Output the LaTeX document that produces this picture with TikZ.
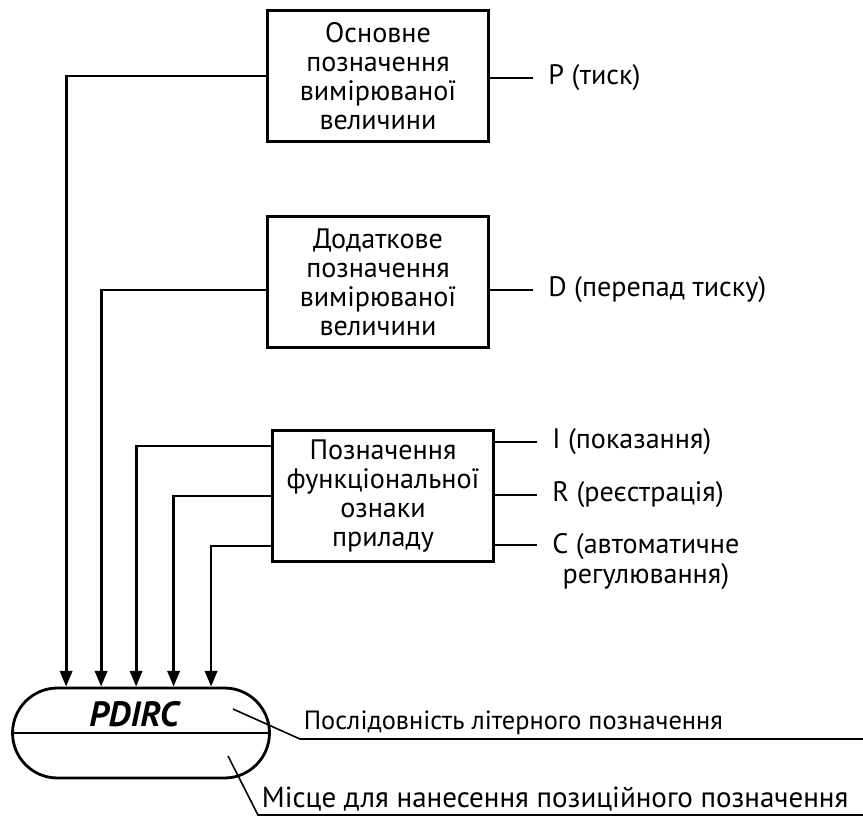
\documentclass[tikz,border=0pt]{standalone}
\usepackage{fontspec}
\setmainfont{PT Sans}
\usetikzlibrary{arrows.meta}
\begin{document}
\begin{tikzpicture}[x=0.02cm,y=-0.02cm,
    box/.style={draw,line width=1.6pt,minimum width=4.42cm,minimum height=2.62cm,
      align=center,inner sep=2pt,font=\fontsize{16}{16.5}\selectfont},
    arr/.style={line width=1.6pt,-{Triangle[width=7pt,length=9pt]}},
    tick/.style={line width=1.6pt}]
    \useasboundingbox (0,0) rectangle (863,818);

    % the texts
    \tikzstyle{lbl}=[anchor=west,inner sep=0pt,font=\fontsize{16}{17}\selectfont]

    \node[box] (b1) at (378,76) {Основне\\позначення\\вимірюваної\\величини};
    \node[box] (b2) at (378,282) {Додаткове\\позначення\\вимірюваної\\величини};
    \node[box] (b3) at (383,496) {Позначення\\функціональної\\ознаки\\приладу};

    \node[draw,line width=1.6pt,rounded corners=0.9cm,minimum width=5.14cm,
      minimum height=1.8cm] (cap) at (141,733) {};
    \draw[line width=1.1pt] (cap.west) -- (cap.east);
    \node[font=\fontsize{20}{22}\selectfont\bfseries\itshape] (seq) at (134,714) {PDIRC};

    % arrows into the capsule
    \foreach \i/\d in {1/1.1,2/1.8,3/2.5,4/3.25,5/4.0}
      \coordinate (a\i) at ([xshift=\d cm]cap.north west);
    \draw[arr] (b1.west) -| (a1);
    \draw[arr] ([yshift=-0.16cm]b2.west) -| (a2);
    \draw[arr] ([yshift=1cm]b3.west) -| (a3);
    \draw[arr] (b3.west) -| (a4);
    \draw[arr] ([yshift=-1cm]b3.west) -| (a5);

    % right-hand codes
    \node[lbl] (p) at (548,78) {P (тиск)};
    \node[lbl] (d) at (548,290) {D (перепад тиску)};
    \node[lbl] (i) at (552,442) {I (показання)};
    \node[lbl] (r) at (552,495) {R (реєстрація)};
    \node[lbl,anchor=north west,align=center] (c) at (552,533) {C (автоматичне\\регулювання)};
    \draw[tick] (b1.east |- p.west) -- ([xshift=-0.3cm]p.west);
    \draw[tick] (b2.east |- d.west) -- ([xshift=-0.3cm]d.west);
    \draw[tick] (b3.east |- i.west) -- ([xshift=-0.3cm]i.west);
    \draw[tick] (b3.east |- r.west) -- ([xshift=-0.3cm]r.west);
    \draw[tick] (b3.east |- 0,545) -- (537,545);

    % leaders
    \node[lbl,anchor=south west,inner sep=2pt,font=\fontsize{15}{17}\selectfont] (t1) at (300,739) {Послідовність літерного позначення};
    \node[lbl,anchor=south west,inner sep=2pt,font=\fontsize{16.5}{17}\selectfont] (t2) at (258,815) {Місце для нанесення позиційного позначення};
    \coordinate (s1) at (233,709);
    \coordinate (s2) at (228,756);
    \coordinate (e1) at (863,739);
    \coordinate (e2) at (863,815);
    \draw[line width=0.9pt] (s1) -- (t1.south west) -- (e1);
    \draw[line width=0.9pt] (s2) -- (t2.south west) -- (e2);
  \end{tikzpicture}
\end{document}
